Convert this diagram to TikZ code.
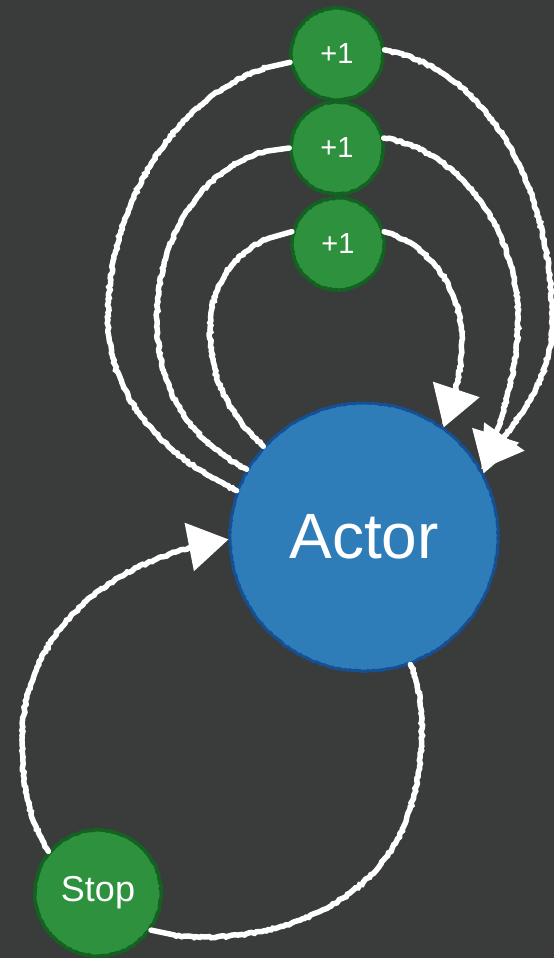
\documentclass[tikz,border=0pt]{standalone}
\usepackage{fontspec}
\setmainfont{Liberation Sans}
\usetikzlibrary{arrows.meta,decorations.pathmorphing}

\definecolor{slate}{RGB}{58,59,59}
\definecolor{actorfill}{RGB}{47,125,184}
\definecolor{actoredge}{RGB}{22,80,148}
\definecolor{leaffill}{RGB}{46,145,62}
\definecolor{leafedge}{RGB}{20,98,34}

\tikzset{
  chalk/.style={draw=white, line width=5.5pt, line cap=round, decorate,
    decoration={random steps, segment length=2.5pt, amplitude=0.9pt,
      pre length=3pt, post length=24pt}},
  tip/.style={-{Triangle[length=40pt,width=48pt]}},
  rough/.style={decorate, decoration={random steps, segment length=2pt, amplitude=0.6pt}},
  actorbox/.style={circle, minimum size=268pt, inner sep=0pt, fill=actorfill,
    draw=actoredge, line width=3pt, rough, text=white,
    font=\fontsize{64}{70}\selectfont},
  counter/.style={circle, minimum size=92pt, inner sep=0pt, fill=leaffill,
    draw=leafedge, line width=3.5pt, rough, text=white,
    font=\fontsize{29}{32}\selectfont},
  stopbox/.style={counter, minimum size=126pt, font=\fontsize{36}{40}\selectfont}
}

\begin{document}
\begin{tikzpicture}[x=1pt,y=-1pt]
  % canvas
  \fill[slate] (0,0) rectangle (554,958);
  \useasboundingbox (0,0) rectangle (554,958);

  % nodes
  \node[actorbox] (actor) at (364,537) {Actor};
  \node[counter] (c1) at (337,54) {+1};
  \node[counter] (c2) at (337,148) {+1};
  \node[counter] (c3) at (338,244) {+1};
  \node[stopbox] (stop) at (98,893) {Stop};

  % loops through the +1 counters, left side (outgoing)
  \draw[chalk] (actor.160) .. controls (170,460) and (108,400) .. (108,320)
                .. controls (108,180) and (200,75) .. (c1.190);
  \draw[chalk] (actor.150) .. controls (190,440) and (157,390) .. (157,320)
                .. controls (157,220) and (220,150) .. (c2.180);
  \draw[chalk] (actor.138) .. controls (230,415) and (210,380) .. (210,330)
                .. controls (210,275) and (245,240) .. (c3.165);

  % loops back into the actor, right side
  \draw[chalk,tip] (c1.5) .. controls (490,70) and (552,190) .. (552,320)
                .. controls (552,385) and (518,415) .. (actor.30);
  \draw[chalk,tip] (c2.12) .. controls (460,150) and (518,230) .. (518,320)
                .. controls (518,370) and (505,405) .. (actor.28);
  \draw[chalk,tip] (c3.15) .. controls (430,245) and (462,290) .. (462,340)
                .. controls (462,370) and (455,395) .. (actor.54);

  % stop loop
  \draw[chalk,tip] (stop.140) .. controls (30,820) and (22,790) .. (22,740)
                .. controls (22,640) and (100,560) .. (actor.181);
  \draw[chalk] (actor.-70) .. controls (427,700) and (427,775) .. (401,832)
                .. controls (355,930) and (220,950) .. (stop.-35);
\end{tikzpicture}
\end{document}
